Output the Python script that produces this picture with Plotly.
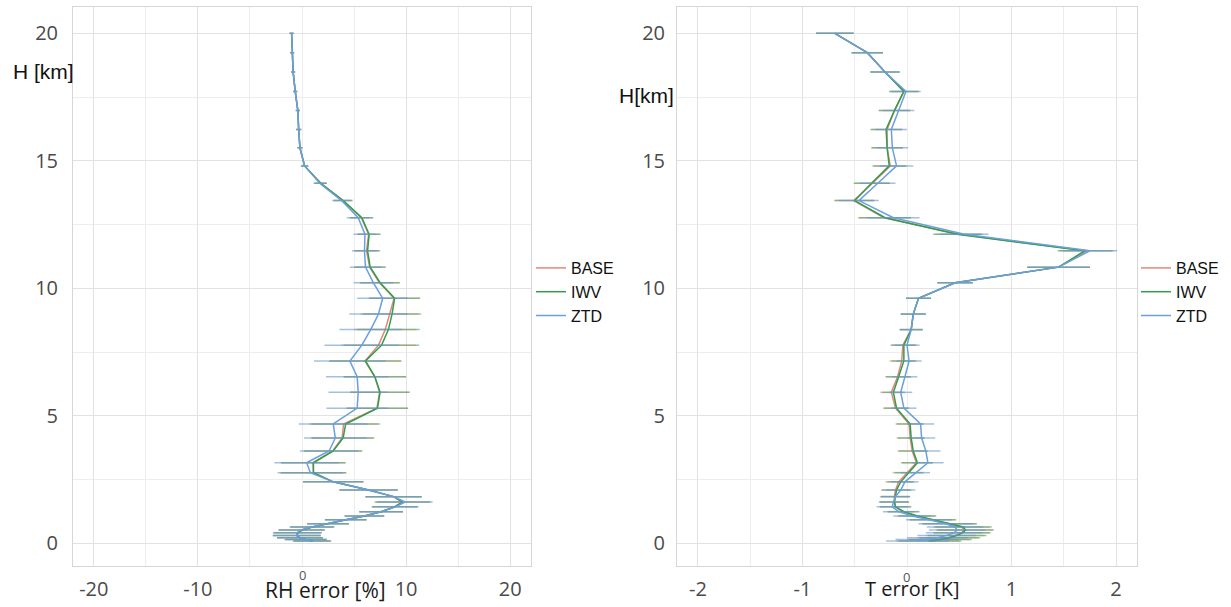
import plotly.graph_objects as go

# Heights (km) of the profile levels
heights = [20.0, 19.24, 18.48, 17.72, 16.97, 16.23, 15.51, 14.8, 14.12, 13.44, 12.77, 12.12,
           11.47, 10.83, 10.22, 9.61, 8.99, 8.38, 7.77, 7.15, 6.53, 5.92, 5.3, 4.68, 4.13,
           3.62, 3.16, 2.77, 2.41, 2.09, 1.83, 1.62, 1.43, 1.24, 1.07, 0.92, 0.77, 0.64,
           0.52, 0.41, 0.31, 0.22, 0.15, 0.09]

series_names = ["BASE", "IWV", "ZTD"]

# RH error [%]
rh_base = [-1.0, -0.95, -0.85, -0.65, -0.4, -0.32, -0.2, 0.25, 1.8, 3.95, 5.7, 6.4,
           6.2, 6.5, 7.45, 8.85, 8.4, 8.0, 7.35, 6.05, 7.0, 7.45, 7.2, 4.0, 3.85,
           2.95, 1.05, 1.1, 3.0, 6.4, 8.8, 9.6, 8.9, 7.6, 6.0, 4.2, 2.5, 1.0,
           0.0, -0.4, -0.5, -0.2, 0.4, 1.0]
rh_iwv = [-1.0, -0.95, -0.85, -0.65, -0.4, -0.32, -0.2, 0.25, 1.8, 3.95, 5.75, 6.45,
          6.3, 6.55, 7.5, 8.9, 8.65, 8.3, 7.65, 6.1, 7.0, 7.5, 7.25, 4.2, 3.95,
          3.0, 1.1, 1.1, 3.0, 6.4, 8.8, 9.7, 8.9, 7.6, 6.0, 4.2, 2.5, 1.0,
          0.0, -0.4, -0.5, -0.2, 0.4, 1.0]
rh_ztd = [-1.0, -0.95, -0.85, -0.65, -0.4, -0.32, -0.2, 0.25, 1.7, 3.8, 5.4, 6.05,
          6.0, 6.1, 6.85, 7.75, 7.35, 6.6, 5.75, 4.6, 5.3, 5.4, 5.3, 3.0, 3.2,
          2.6, 0.45, 0.8, 3.0, 6.4, 8.8, 9.9, 9.0, 7.6, 6.0, 4.2, 2.5, 0.9,
          -0.1, -0.5, -0.5, -0.2, 0.3, 0.9]
rh_err = [0.2, 0.2, 0.2, 0.2, 0.2, 0.25, 0.25, 0.35, 0.6, 0.9, 1.1, 1.1,
          1.2, 1.5, 1.9, 2.45, 2.8, 3.0, 3.6, 3.45, 3.0, 2.85, 2.95, 3.3, 3.0,
          2.8, 3.1, 3.15, 2.9, 2.8, 2.7, 2.65, 2.2, 2.1, 1.9, 2.0, 2.0, 2.1,
          2.2, 2.3, 2.3, 2.2, 2.0, 1.8]

# T error [K]
t_base = [-0.69, -0.38, -0.21, -0.03, -0.12, -0.19, -0.19, -0.16, -0.33, -0.51, -0.22, 0.5,
          1.72, 1.45, 0.46, 0.11, 0.06, 0.04, -0.04, -0.05, -0.09, -0.15, -0.11, 0.02, 0.03,
          0.05, 0.09, 0.0, -0.08, -0.11, -0.12, -0.12, -0.11, -0.04, 0.09, 0.24, 0.4, 0.52,
          0.55, 0.52, 0.46, 0.39, 0.3, 0.2]
t_iwv = [-0.69, -0.38, -0.21, -0.03, -0.12, -0.2, -0.19, -0.17, -0.34, -0.5, -0.21, 0.48,
         1.7, 1.45, 0.46, 0.11, 0.06, 0.04, -0.03, -0.03, -0.08, -0.13, -0.1, 0.03, 0.04,
         0.06, 0.1, 0.02, -0.06, -0.1, -0.11, -0.12, -0.11, -0.03, 0.1, 0.25, 0.41, 0.54,
         0.56, 0.53, 0.48, 0.41, 0.32, 0.22]
t_ztd = [-0.69, -0.38, -0.21, -0.01, -0.08, -0.15, -0.14, -0.1, -0.28, -0.46, -0.13, 0.55,
         1.75, 1.45, 0.46, 0.11, 0.06, 0.04, 0.0, 0.02, -0.02, -0.06, -0.03, 0.13, 0.14,
         0.18, 0.2, 0.08, -0.02, -0.06, -0.11, -0.13, -0.14, -0.08, 0.05, 0.21, 0.37, 0.46,
         0.48, 0.45, 0.38, 0.29, 0.19, 0.1]
t_err = [0.18, 0.15, 0.14, 0.14, 0.15, 0.15, 0.15, 0.16, 0.17, 0.19, 0.25, 0.23,
         0.26, 0.3, 0.17, 0.12, 0.12, 0.11, 0.12, 0.12, 0.12, 0.11, 0.12, 0.13, 0.13,
         0.14, 0.15, 0.14, 0.13, 0.14, 0.14, 0.14, 0.15, 0.15, 0.18, 0.22, 0.26, 0.27,
         0.27, 0.27, 0.28, 0.29, 0.3, 0.3]

line_colors = ["#e8837b", "#2f9e4a", "#6b9fe0"]
err_colors = ["rgba(235,130,120,0.5)", "rgba(70,165,90,0.6)", "rgba(100,150,210,0.6)"]

W, H = 1231, 607
fig = go.Figure()

rh_series = [rh_base, rh_iwv, rh_ztd]
t_series = [t_base, t_iwv, t_ztd]

for i, name in enumerate(series_names):
    fig.add_trace(go.Scatter(
        x=rh_series[i], y=heights, mode="lines", name=name,
        line=dict(color=line_colors[i], width=1.5),
        error_x=dict(type="data", array=rh_err, color=err_colors[i], thickness=1.5, width=0),
        xaxis="x", yaxis="y", legend="legend"))
for i, name in enumerate(series_names):
    fig.add_trace(go.Scatter(
        x=t_series[i], y=heights, mode="lines", name=name,
        line=dict(color=line_colors[i], width=1.5),
        error_x=dict(type="data", array=t_err, color=err_colors[i], thickness=1.5, width=0),
        xaxis="x2", yaxis="y2", legend="legend2"))

px = lambda v: v / W
py = lambda v: 1 - v / H

tickfont = dict(family="Open Sans", size=20, color="#4a4a4a")
grid = "#e2e2e2"
mgrid = "#ededed"

def xaxis_cfg(dom, rng, tv, dminor):
    return dict(domain=dom, range=rng, tickvals=tv, ticktext=[str(v) for v in tv],
                tickfont=tickfont, showgrid=True, gridcolor=grid, gridwidth=1,
                zeroline=False, showline=True, linecolor="#d6d6d6", mirror=True,
                ticks="", ticklabelstandoff=5, automargin=False,
                minor=dict(dtick=dminor, tick0=0, showgrid=True, gridcolor=mgrid, ticks=""))

def yaxis_cfg(anchor, standoff):
    return dict(domain=[py(566), py(7.3)], range=[-0.89, 21.02], tickvals=[0, 5, 10, 15, 20],
                tickfont=tickfont, showgrid=True, gridcolor=grid, zeroline=False,
                showline=True, linecolor="#d6d6d6", mirror=True, ticks="",
                ticklabelstandoff=standoff, anchor=anchor, automargin=False,
                minor=dict(dtick=2.5, tick0=0, showgrid=True, gridcolor=mgrid, ticks=""))

legend_common = dict(font=dict(family="Liberation Sans", size=16, color="#111"),
                     bgcolor="rgba(0,0,0,0)", borderwidth=0, itemwidth=30,
                     xanchor="left", yanchor="top", tracegroupgap=0)

fig.update_layout(
    width=W, height=H, template="none",
    paper_bgcolor="white", plot_bgcolor="white",
    margin=dict(l=0, r=0, t=0, b=0),
    showlegend=True,
    xaxis=xaxis_cfg([px(73), px(531)], [-22, 22], [-20, -10, 10, 20], 5) | dict(anchor="y"),
    yaxis=yaxis_cfg("x", 10),
    xaxis2=xaxis_cfg([px(677), px(1137)], [-2.2, 2.2], [-2, -1, 1, 2], 0.5) | dict(anchor="y2"),
    yaxis2=yaxis_cfg("x2", 7),
    legend=dict(x=px(531), y=py(251), **legend_common),
    legend2=dict(x=px(1136), y=py(251), **legend_common),
)

annots = [
    dict(text="H [km]", x=px(11), y=py(71), xanchor="left", yanchor="middle",
         font=dict(family="Liberation Sans", size=21, color="#111")),
    dict(text="H[km]", x=px(617), y=py(96), xanchor="left", yanchor="middle",
         font=dict(family="Liberation Sans", size=21, color="#111")),
    dict(text="RH error [%]", x=px(325), y=py(590), xanchor="center", yanchor="middle",
         font=dict(family="Open Sans", size=21, color="#1a1a1a")),
    dict(text="T error [K]", x=px(913), y=py(588), xanchor="center", yanchor="middle",
         font=dict(family="Open Sans", size=20, color="#1a1a1a")),
]
for a in annots:
    a.update(xref="paper", yref="paper", showarrow=False)
    fig.add_annotation(**a)

fig.add_annotation(text="0", x=0, xref="x", y=py(575), yref="paper", showarrow=False,
                   xanchor="center", yanchor="middle",
                   font=dict(family="Open Sans", size=13, color="#555"))
fig.add_annotation(text="0", x=0, xref="x2", y=py(577), yref="paper", showarrow=False,
                   xanchor="center", yanchor="middle",
                   font=dict(family="Open Sans", size=13, color="#555"))

fig.write_html("out.html", post_script="document.body.style.margin='0';",
               config={"displayModeBar": False})
